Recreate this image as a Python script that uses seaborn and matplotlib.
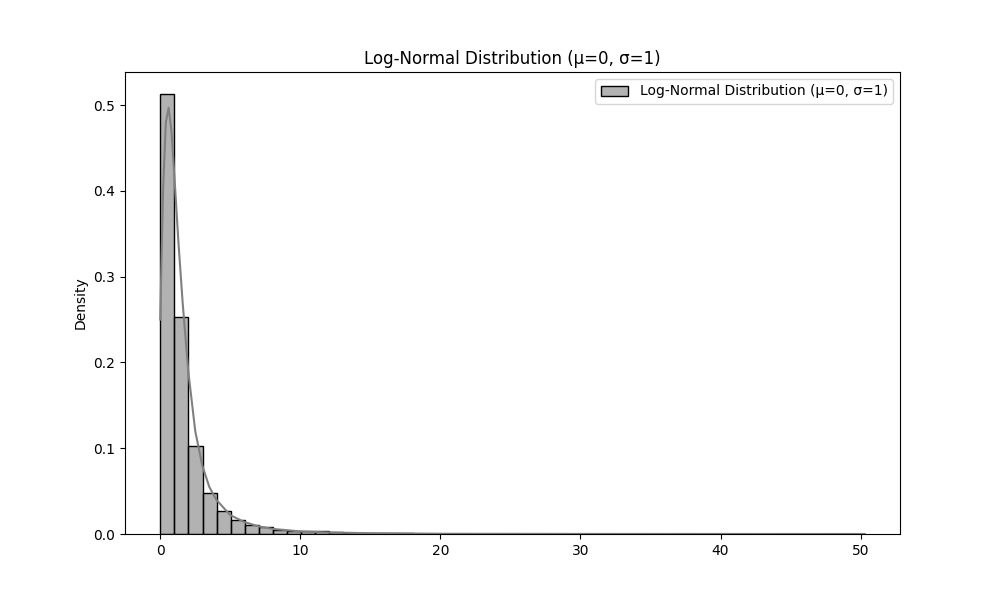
import numpy as np
import pandas as pd
import matplotlib
matplotlib.use('Agg')
import matplotlib.pyplot as plt
import seaborn as sns

# bin range (50 bins of width ~1.006) and bar heights
bin_lo = 0.0
bin_hi = 50.3
heights = [0.513, 0.253, 0.103, 0.048, 0.027, 0.016, 0.011, 0.008, 0.005, 0.004,
           0.003, 0.003, 0.002, 0.0015, 0.0012, 0.001, 0.0008, 0.0006, 0.0005, 0.0004,
           0.0003, 0.0003, 0.0002, 0.0002, 0.0002, 0.0001, 0.0001, 0.0001, 0.0001, 0.0001,
           0.0001, 0.0, 0.0001, 0.0, 0.0, 0.0001, 0.0, 0.0, 0.0, 0.0,
           0.0, 0.0, 0.0, 0.0, 0.0, 0.0, 0.0, 0.0, 0.0, 0.0001]

# kde curve
kde_x = [0.0, 0.2, 0.4, 0.6, 0.8, 1.0, 1.3, 1.6, 2.0, 2.5, 3.0, 3.5, 4.0, 5.0,
         6.0, 7.0, 8.0, 10.0, 12.0, 15.0, 20.0, 30.0, 40.0, 50.3]
kde_y = [0.25, 0.40, 0.48, 0.497, 0.47, 0.42, 0.34, 0.27, 0.19, 0.12, 0.08, 0.055,
         0.04, 0.022, 0.014, 0.009, 0.006, 0.003, 0.0018, 0.0009, 0.0003, 0.0001,
         0.00005, 0.0]

label = 'Log-Normal Distribution (μ=0, σ=1)'
edges = np.linspace(bin_lo, bin_hi, len(heights) + 1)
df = pd.DataFrame({'x': (edges[:-1] + edges[1:]) / 2, 'h': heights})

fig, ax = plt.subplots(figsize=(10, 6), dpi=100)
sns.histplot(data=df, x='x', weights='h', bins=len(heights), binrange=(bin_lo, bin_hi),
             stat='count', color='gray', edgecolor='black', alpha=0.6,
             label=label, ax=ax)
sns.lineplot(x=kde_x, y=kde_y, color='gray', ax=ax)
ax.set_ylabel('Density')
ax.set_xlabel('')
ax.set_title(label)
ax.legend(loc='upper right')
fig.savefig('out.png')
